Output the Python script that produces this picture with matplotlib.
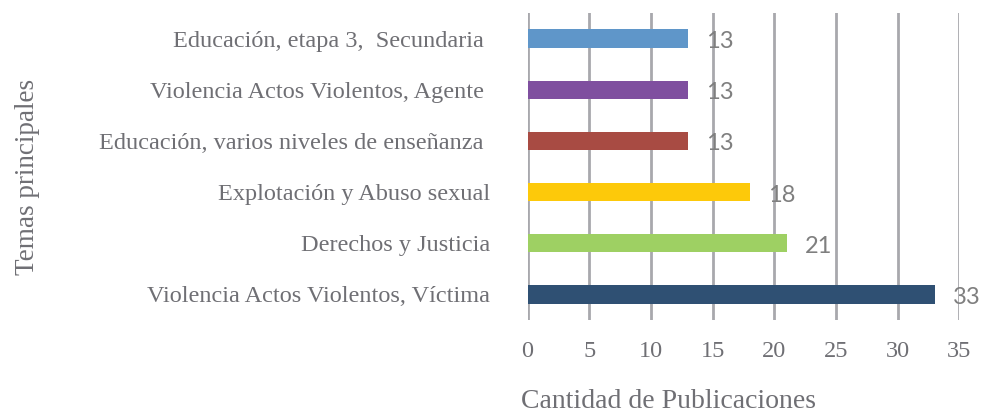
import matplotlib
matplotlib.use("Agg")
import matplotlib.pyplot as plt

categories = ["Violencia Actos Violentos, Víctima", "Derechos y Justicia",
              "Explotación y Abuso sexual", "Educación, varios niveles de enseñanza ",
              "Violencia Actos Violentos, Agente ", "Educación, etapa 3,  Secundaria "]
values = [33, 21, 18, 13, 13, 13]
colors = ["#2F5073", "#9ED063", "#FDC90A", "#A84B43", "#7F4F9F", "#5F96C9"]
xticks = [0, 5, 10, 15, 20, 25, 30, 35]

TXT = "#6F6F74"
SERIF = ["Liberation Serif", "DejaVu Serif"]

fig = plt.figure(figsize=(9.81, 4.13), dpi=100)
ax = fig.add_axes([527.5/981, 93/413, 431.8/981, 307/413])

ax.barh(range(len(values)), values, height=0.36, color=colors, zorder=3)
ax.set_xlim(0, 35)
ax.set_ylim(-0.5, len(values) - 0.5)
ax.set_xticks(xticks)
ax.set_yticks(range(len(values)))
ax.set_yticklabels(categories, family=SERIF, fontsize=17.5, color=TXT)
ax.set_xticklabels([str(t) for t in xticks], family=SERIF, fontsize=17.5, color=TXT)
ax.tick_params(axis="y", length=0, pad=27)
ax.tick_params(axis="x", length=0, pad=15)
ax.grid(axis="x", color="#A8A8AD", linewidth=2, zorder=0)
for s in ax.spines.values():
    s.set_visible(False)

for i, v in enumerate(values):
    ax.text(v + 1.5, i - 0.06, str(v), va="center", ha="left", fontsize=17,
            family=["Lato", "DejaVu Sans"], color="#7F7F7F", zorder=4)

fig.text(28/981, (413-177)/413, "Temas principales", rotation=90, ha="center",
         va="center", family=SERIF, fontsize=19.5, color=TXT)
fig.text(668.5/981, (413-401)/413, "Cantidad de Publicaciones", ha="center",
         va="center", family=SERIF, fontsize=20, color=TXT)

fig.savefig("out.png", dpi=100)
